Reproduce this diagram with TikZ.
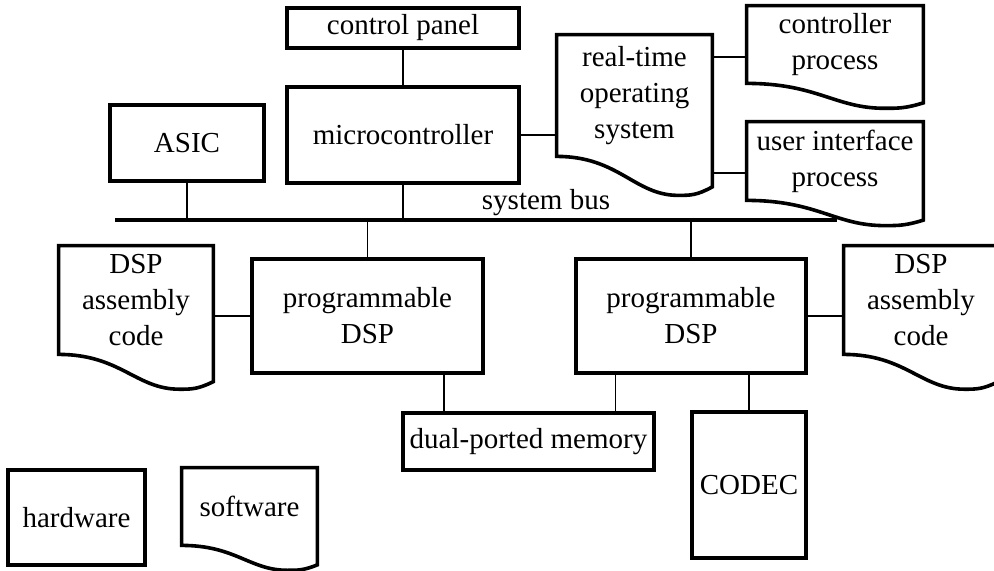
\documentclass[tikz,border=0pt]{standalone}
\usepackage{fontspec}
\setmainfont{Liberation Serif}
\usetikzlibrary{calc}
\begin{document}
\begin{tikzpicture}[x=0.5pt,y=-0.5pt,
		font=\fontsize{14.5}{18}\selectfont,
		box/.style={draw,line width=1.8pt,inner sep=0pt,align=center},
		doc/.style={inner sep=0pt,align=center},
		frame/.style={line width=1.8pt},
		link/.style={line width=0.7pt},
		bus/.style={line width=1.9pt}]
		\useasboundingbox (0,0) rectangle (994,571);
		
		\node[box,minimum width=116pt,minimum height=20pt] (panel) at (403,28) {control panel};
		\node[box,minimum width=116pt,minimum height=48pt] (mc) at (403,135) {microcontroller};
		\node[box,minimum width=77pt,minimum height=38pt] (asic) at (187,143) {ASIC};
		\node[box,minimum width=115.5pt,minimum height=57pt] (dsp1) at (367.5,316) {programmable\\DSP};
		\node[box,minimum width=115pt,minimum height=57pt] (dsp2) at (691,316) {programmable\\DSP};
		\node[box,minimum width=125.5pt,minimum height=28.5pt] (mem) at (528.5,441.5) {dual-ported memory};
		\node[box,minimum width=57pt,minimum height=73pt] (codec) at (749,485) {CODEC};
		\node[box,minimum width=68.5pt,minimum height=47.5pt] (hw) at (76.5,517.5) {hardware};
		
		\node[doc,minimum width=77.5pt,minimum height=60.5pt] (rtos) at (634.5,95.5) {real-time\\operating\\system};
		\node[doc,minimum width=88pt,minimum height=38.5pt] (ctrl) at (835,44.5) {controller\\process};
		\node[doc,minimum width=88pt,minimum height=39pt] (ui) at (835,161) {user interface\\process};
		\node[doc,minimum width=77pt,minimum height=54pt] (asmL) at (136,300) {DSP\\assembly\\code};
		\node[doc,minimum width=77pt,minimum height=54pt] (asmR) at (921,300) {DSP\\assembly\\code};
		\node[doc,minimum width=67.5pt,minimum height=38.5pt] (sw) at (249.5,506.5) {software};
		
		\foreach \doc in {rtos,ctrl,ui,asmL,asmR,sw}
			\draw[frame] let \p1=(\doc.north west), \p2=(\doc.south east), \n1={\y1-\y2}, \n2={\x2-\x1} in
				(\x1,\y2) -- (\x1,\y1) -- (\x2,\y1) -- (\x2,{\y2-0.25*\n1})
				.. controls ({\x1+0.9*\n2},{\y2-0.32*\n1}) and ({\x1+0.86*\n2},{\y2-0.32*\n1}) .. ({\x1+0.78*\n2},{\y2-0.32*\n1})
				.. controls ({\x1+0.5*\n2},{\y2-0.32*\n1}) and ({\x1+0.4*\n2},\y2) .. (\x1,\y2) -- cycle;
		
		\coordinate (busL) at (115,220);
		\coordinate (busR) at (837,220);
		\draw[bus] (busL) -- (busR);
		\node[anchor=base] (buslbl) at (546,210) {system bus};
		
		\draw[link] (panel) -- (mc);
		\draw[link] (mc.east) -- (mc.east -| rtos.west);
		\draw[link] ([yshift=-6.25pt]ctrl.west) -- ([yshift=-6.25pt]ctrl.west -| rtos.east);
		\draw[link] ([yshift=-6pt]ui.west) -- ([yshift=-6pt]ui.west -| rtos.east);
		\draw[link] (asic.south) -- (asic.south |- busL);
		\draw[link] (mc.south) -- (mc.south |- busL);
		\draw[link] (dsp1.north) -- (dsp1.north |- busL);
		\draw[link] (dsp2.north) -- (dsp2.north |- busL);
		\draw[link] (dsp1.west) -- (dsp1.west -| asmL.east);
		\draw[link] (dsp2.east) -- (dsp2.east -| asmR.west);
		\draw[link] ([xshift=-20.5pt]dsp1.south east) -- ([xshift=-20.5pt]dsp1.south east |- mem.north);
		\draw[link] ([xshift=20.5pt]dsp2.south west) -- ([xshift=20.5pt]dsp2.south west |- mem.north);
		\draw[link] (codec.north) -- (codec.north |- dsp2.south);
\end{tikzpicture}
\end{document}
